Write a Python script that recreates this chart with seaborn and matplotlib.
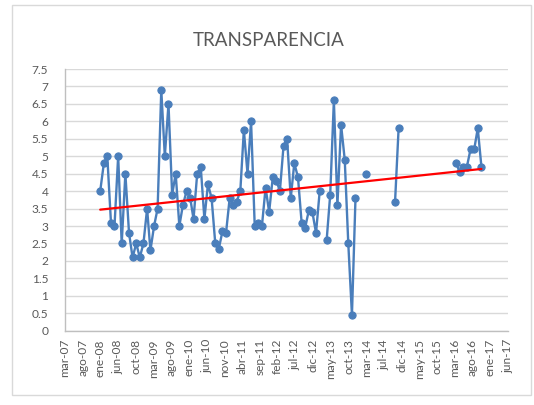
import numpy as np
import pandas as pd
import matplotlib
matplotlib.use("Agg")
import matplotlib.pyplot as plt
import matplotlib.dates as mdates
from matplotlib.patches import Rectangle
import seaborn as sns

# ---- data (monthly readings, gaps split into segments) ----
seg_start = ["2008-01-01", "2013-04-01", "2014-03-01", "2014-11-01", "2016-04-01"]
seg_2008_2013 = [4.0, 4.8, 5.0, 3.1, 3.0, 5.0, 2.5, 4.5, 2.8, 2.1, 2.5, 2.1,
                 2.5, 3.5, 2.3, 3.0, 3.5, 6.9, 5.0, 6.5, 3.9, 4.5, 3.0, 3.6,
                 4.0, 3.8, 3.2, 4.5, 4.7, 3.2, 4.2, 3.8, 2.5, 2.35, 2.85, 2.8,
                 3.8, 3.6, 3.7, 4.0, 5.75, 4.5, 6.0, 3.0, 3.1, 3.0, 4.1, 3.4,
                 4.4, 4.3, 4.0, 5.3, 5.5, 3.8, 4.8, 4.4, 3.1, 2.95, 3.45, 3.4,
                 2.8, 4.0]
seg_2013 = [2.6, 3.9, 6.6, 3.6, 5.9, 4.9, 2.5, 0.45, 3.8]
seg_2014a = [4.5]
seg_2014b = [3.7, 5.8]
seg_2016 = [4.8, 4.55, 4.7, 4.7, 5.2, 5.2, 5.8, 4.7]
seg_values = [seg_2008_2013, seg_2013, seg_2014a, seg_2014b, seg_2016]

axis_start = "2007-03-09"
tick_step_days = 150
x_tick_labels = ["mar-07", "ago-07", "ene-08", "jun-08", "oct-08", "mar-09", "ago-09",
                 "ene-10", "jun-10", "nov-10", "abr-11", "sep-11", "feb-12", "jul-12",
                 "dic-12", "may-13", "oct-13", "mar-14", "jul-14", "dic-14", "may-15",
                 "oct-15", "mar-16", "ago-16", "ene-17", "jun-17"]
y_ticks = [0, 0.5, 1, 1.5, 2, 2.5, 3, 3.5, 4, 4.5, 5, 5.5, 6, 6.5, 7, 7.5]
y_tick_labels = ["0", "0.5", "1", "1.5", "2", "2.5", "3", "3.5", "4", "4.5",
                 "5", "5.5", "6", "6.5", "7", "7.5"]
title = "TRANSPARENCIA"

# ---- build table ----
rows = []
for i, (st, vals) in enumerate(zip(seg_start, seg_values)):
    dts = pd.date_range(st, periods=len(vals), freq="MS")
    for d, v in zip(dts, vals):
        rows.append({"date": d, "x": mdates.date2num(d), "valor": v, "seg": i})
df = pd.DataFrame(rows)

sns.set_theme(style="white")
plt.rcParams["font.family"] = ["Lato", "DejaVu Sans"]

fig = plt.figure(figsize=(5.34, 4.05), dpi=100)
ax = fig.add_axes([65 / 534, 1 - 330.7 / 405, (508 - 65) / 534, (330.7 - 69) / 405])

blue = "#4A7EBB"
sns.lineplot(data=df, x="x", y="valor", units="seg", estimator=None, ax=ax,
             color=blue, linewidth=1.7, marker="o", markersize=5.2,
             markeredgecolor=blue, markerfacecolor=blue, sort=False, legend=False)
sns.regplot(data=df, x="x", y="valor", scatter=False, ci=None, ax=ax,
            line_kws=dict(color="#FF0000", linewidth=1.6), truncate=True)

x0 = mdates.date2num(pd.Timestamp(axis_start))
xt = [x0 + tick_step_days * k for k in range(len(x_tick_labels))]
ax.set_xlim(xt[0], xt[-1])
ax.set_ylim(0, 7.5)
ax.set_xticks(xt)
ax.set_xticklabels(x_tick_labels, rotation=90, fontsize=8.6, color="#595959")
ax.set_yticks(y_ticks)
ax.set_yticklabels(y_tick_labels, fontsize=8.6, color="#595959")
ax.tick_params(axis="x", length=0, pad=6)
ax.tick_params(axis="y", length=0, pad=12)
ax.set_xlabel("")
ax.set_ylabel("")

ax.yaxis.grid(True, color="#D9D9D9", linewidth=1.0)
ax.xaxis.grid(False)
ax.set_axisbelow(True)
for s in ["top", "right"]:
    ax.spines[s].set_visible(False)
for s in ["left", "bottom"]:
    ax.spines[s].set_color("#BFBFBF")
    ax.spines[s].set_linewidth(1.0)

fig.text(269 / 534, 1 - 41 / 405, title, ha="center", va="center",
         fontsize=13.5, color="#595959")

fig.patches.append(Rectangle((12 / 534, 1 - 395 / 405), (531 - 12) / 534, (395 - 5) / 405,
                             transform=fig.transFigure, fill=False,
                             edgecolor="#D9D9D9", linewidth=1.0))

fig.savefig("out.png", dpi=100, facecolor="white")
